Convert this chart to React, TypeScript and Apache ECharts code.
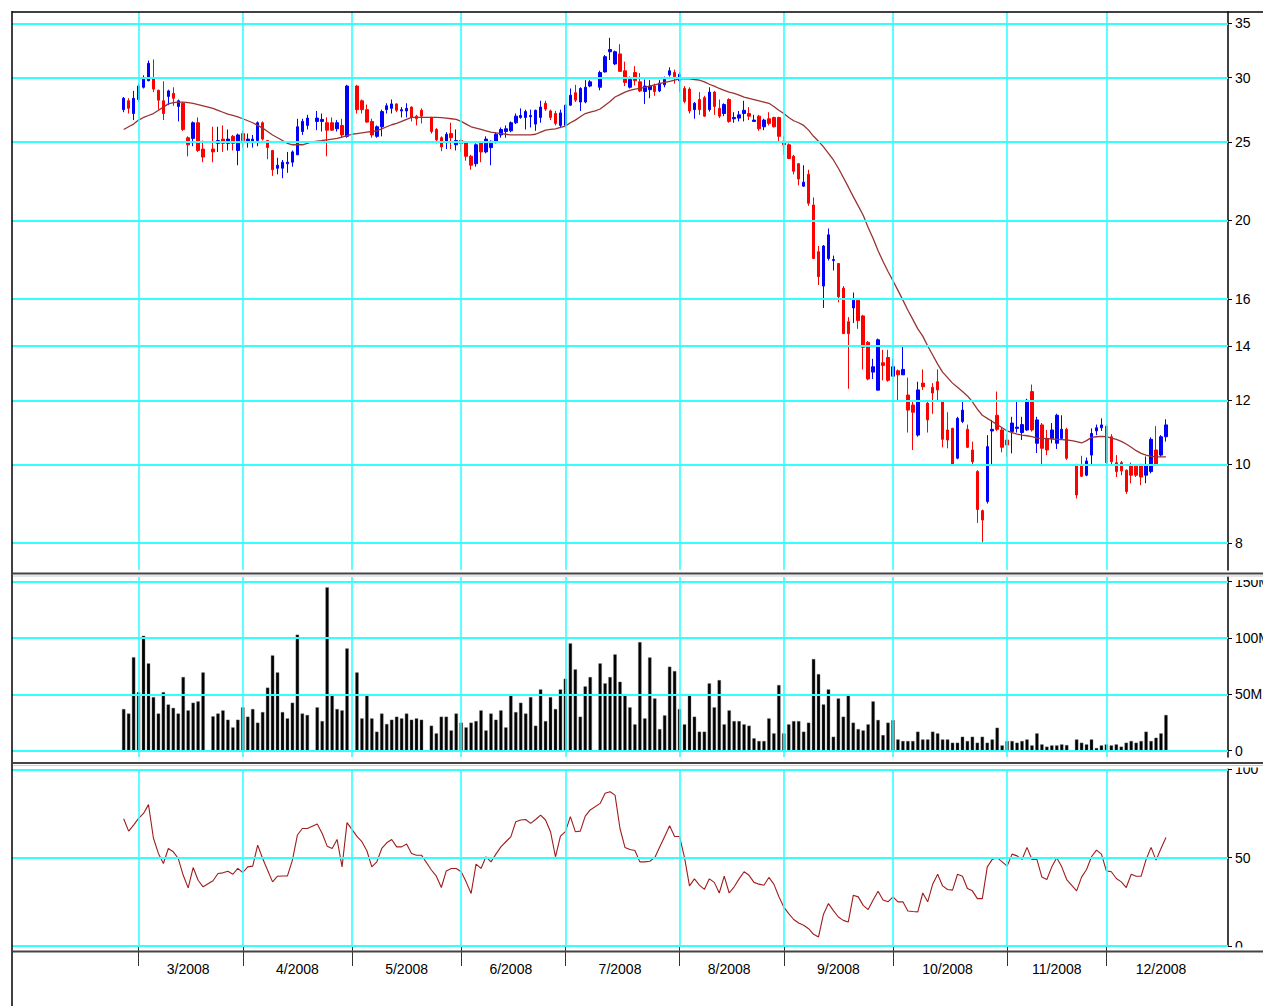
import React, { useEffect, useRef } from "react";
import * as echarts from "echarts";

// ---------- axis / layout constants ----------
const START_YEAR = 2008;
const START_MONTH = 0; // January
const START_DAY = 28; // first weekday slot on the time axis
const SLOT_COUNT = 245; // weekday slots on the axis
const PAD_BEFORE = 22; // empty slots before 2008-02-27

const MONTHS = ["2008-03", "2008-04", "2008-05", "2008-06", "2008-07", "2008-08", "2008-09", "2008-10", "2008-11", "2008-12"];
const priceTicks = [8, 10, 12, 14, 16, 20, 25, 30, 35];
const volumeTicks = [0, 50, 100, 150];
const oscTicks = [0, 50, 100];

// ---------- data: weekdays from 2008-02-27 to 2008-12-17 (null = market holiday) ----------
const opens = [27.4, 28.1, 27.1, 28.2, 29.2, 29.75, 30.0, 28.95, 28.1, 28.45,
  28.7, 27.65, 27.9, 25.3, 25.25, 26.4, 24.5, null, 24.5, 24.9,
  25.2, 24.9, 25.4, 24.4, 25.6, 25.0, 25.0, 25.1, 26.4, 25.1,
  24.4, 23.2, 23.2, 23.5, 23.6, 24.1, 25.75, 26.2, null, 26.5,
  26.5, 26.4, 26.4, 25.95, 26.2, 25.4, null, 29.3, 28.1, 27.4,
  26.5, 25.4, 26.1, 27.4, 27.5, 27.85, 27.3, 27.3, 27.6, 26.9,
  27.35, null, 26.8, 25.9, 25.3, 24.95, 25.6, 24.8, 25.1, 24.95,
  24.0, 23.5, 24.95, 24.3, 24.6, 24.95, 25.5, 25.75, 25.8, 26.4,
  26.8, 26.8, 26.85, 26.3, 26.8, 27.9, 27.3, 27.1, 26.2, 26.2,
  27.75, 28.75, 28.0, 28.0, 29.3, null, 29.2, 30.5, 32.3, 31.2,
  32.1, 30.6, 29.2, 30.45, 29.65, 28.85, 29.0, 29.3, 28.9, 29.4,
  30.25, 30.45, 29.75, 29.1, 29.05, 27.4, 28.2, 28.35, 27.4, 28.8,
  27.5, 27.1, 28.2, 26.7, 26.75, 27.1, 27.1, 26.5, 26.9, 26.1,
  26.7, 26.8, 26.8, 25.05, 24.8, 24.0, 23.5, 22.05, 22.8, 20.9,
  18.3, 16.6, 17.95, 17.85, 17.7, 16.5, 15.0, 15.6, 15.95, 15.25,
  14.15, 13.0, 12.35, 13.35, 13.55, 12.85, 13.05, 12.9, 12.18, 11.84,
  10.87, 12.6, 11.9, 12.45, 12.65, 11.95, 11.03, 11.08, 10.18, 11.3,
  11.05, 10.42, 9.8, 8.77, 9.0, 11.0, 11.5, 11.03, 10.72, 10.98,
  11.08, 10.95, 11.03, 12.3, 10.62, 11.19, 10.77, 10.77, 10.62, 10.77,
  11.05, null, 10.0, 9.98, 9.7, 10.27, 11.0, 11.1, 11.15, 10.82,
  10.05, 10.05, 9.84, 10.0, 9.95, 10.0, 9.7, 9.8, 10.42, 10.27,
  10.82];

const closes = [28.3, 27.5, 28.3, 29.3, 29.9, 31.25, 29.05, 28.15, 27.1, 28.9,
  28.3, 28.1, 25.9, 24.8, 26.4, 24.4, 23.95, null, 24.3, 25.1,
  24.9, 25.2, 24.9, 25.5, 25.1, 25.2, 25.2, 26.4, 25.2, 24.6,
  23.1, 23.4, 23.6, 23.6, 24.3, 26.1, 26.5, 26.75, null, 26.75,
  26.65, 25.85, 25.85, 26.4, 25.5, 29.3, null, 27.4, 27.4, 26.45,
  25.5, 26.1, 27.25, 27.7, 27.85, 27.35, 27.4, 27.5, 26.8, 26.7,
  26.9, null, 25.75, 25.15, 24.65, 25.55, 25.3, 25.1, 24.9, 24.0,
  23.4, 24.8, 24.3, 25.2, 25.05, 25.55, 25.9, 25.95, 26.4, 26.9,
  26.95, 27.25, 26.95, 27.35, 27.6, 27.45, 26.8, 26.35, 27.15, 27.75,
  28.55, 28.15, 29.1, 29.2, 29.65, null, 30.45, 31.85, 32.5, 32.3,
  30.55, 29.6, 29.85, 29.75, 28.9, 29.3, 29.3, 28.85, 29.55, 29.85,
  30.6, 30.1, 30.3, 28.05, 27.3, 27.9, 27.4, 26.9, 28.8, 27.65,
  26.9, 27.8, 26.5, 26.8, 27.0, 27.35, 26.9, 26.6, 25.95, 26.6,
  26.35, 26.1, 25.4, 24.8, 23.85, 23.0, 22.5, 22.3, 21.0, 17.95,
  17.05, 18.6, 19.2, 17.9, 16.1, 14.5, 14.5, 15.95, 15.05, 13.95,
  12.75, 13.2, 14.25, 13.25, 12.7, 13.2, 12.9, 13.1, 11.67, 11.6,
  12.36, 12.47, 11.35, 12.25, 12.36, 10.74, 10.72, 10.0, 11.4, 11.67,
  10.5, 10.08, 8.8, 8.54, 10.52, 11.05, 11.05, 10.5, 10.57, 11.25,
  11.12, 11.2, 12.0, 11.03, 11.35, 10.47, 10.42, 11.03, 11.5, 11.05,
  10.18, null, 9.17, 9.67, 10.1, 10.92, 11.1, 11.19, 10.05, 10.08,
  9.8, 9.82, 9.26, 9.7, 9.7, 9.65, 10.0, 10.74, 10.0, 10.82,
  11.19];

const lows = [27.2, 27.1, 26.6, 28.0, 29.1, 29.7, 28.8, 27.4, 26.6, 27.75,
  27.7, 26.5, 25.8, 24.0, 24.7, 24.3, 23.6, null, 23.6, 24.3,
  24.3, 24.4, 24.4, 23.4, 24.6, 24.6, 24.6, 24.7, 25.1, 23.8,
  22.7, 22.8, 22.55, 22.9, 23.3, 24.1, 25.5, 25.9, null, 25.85,
  25.75, 24.0, 25.8, 25.75, 25.3, 25.3, null, 27.1, 27.1, 26.4,
  25.3, 25.3, 25.4, 27.1, 27.1, 27.2, 26.8, 26.8, 26.5, 26.2,
  26.35, null, 25.6, 24.9, 24.35, 24.5, 24.5, 24.4, 24.3, 23.7,
  23.1, 23.3, 23.6, 24.2, 23.4, 24.9, 25.3, 25.3, 25.7, 26.3,
  26.7, 25.9, 26.05, 25.8, 26.4, 27.3, 26.6, 26.2, 26.0, 26.05,
  27.7, 28.0, 27.3, 27.9, 29.2, null, 28.95, 30.45, 31.55, 31.1,
  30.5, 29.3, 29.1, 29.35, 28.8, 27.85, 28.3, 28.5, 28.8, 29.2,
  30.1, 29.5, 28.8, 27.9, 27.1, 26.7, 27.0, 26.85, 27.25, 27.0,
  26.75, 26.9, 26.4, 26.4, 26.5, 26.5, 26.6, 26.5, 25.8, 25.85,
  26.2, 26.05, 25.05, 24.1, 23.8, 22.8, 22.1, 22.0, 20.85, 17.93,
  16.65, 15.6, 17.85, 17.35, 15.85, 14.5, 12.4, 14.95, 14.7, 13.1,
  12.7, 12.75, 12.35, 12.7, 12.65, 12.85, 12.0, 12.9, 10.95, 10.42,
  10.82, 12.36, 10.95, 11.55, 12.0, 10.5, 10.47, 10.0, 10.15, 11.25,
  10.48, 9.95, 8.47, 8.0, 8.95, 10.0, 11.0, 10.35, 10.22, 10.32,
  10.95, 10.72, 11.0, 10.98, 10.33, 9.95, 10.27, 10.62, 10.45, 10.72,
  10.13, null, 9.08, 9.65, 9.67, 9.98, 10.87, 11.0, 10.0, 9.98,
  9.65, 9.7, 9.2, 9.48, 9.65, 9.43, 9.48, 9.75, 10.0, 10.22,
  10.67];

const highs = [28.4, 28.3, 28.9, 29.5, 30.2, 31.5, 31.6, 29.0, 29.7, 29.0,
  29.2, 28.2, 28.0, 25.4, 26.5, 26.8, 25.1, null, 26.1, 26.1,
  26.2, 25.9, 25.5, 25.6, 25.8, 25.6, 25.5, 26.5, 26.5, 25.1,
  24.4, 23.9, 23.75, 24.3, 24.4, 26.7, 26.7, 27.0, null, 27.3,
  27.1, 26.8, 26.8, 26.6, 26.7, 29.4, null, 29.4, 28.2, 27.8,
  26.7, 26.2, 27.4, 27.9, 28.2, 27.9, 27.6, 27.9, 27.65, 27.0,
  27.5, null, 26.85, 26.0, 25.4, 25.7, 26.4, 25.9, 25.2, 25.0,
  24.1, 24.9, 25.0, 25.4, 25.1, 25.7, 26.05, 26.2, 26.5, 27.1,
  27.5, 27.4, 27.4, 27.4, 28.1, 28.1, 27.4, 27.3, 27.4, 27.85,
  29.1, 29.4, 29.2, 29.8, 29.8, null, 30.6, 32.0, 33.6, 32.4,
  33.0, 31.4, 30.1, 31.0, 30.4, 29.85, 29.8, 29.5, 29.8, 30.1,
  30.9, 30.7, 30.5, 29.3, 29.2, 28.0, 28.8, 28.5, 29.2, 28.9,
  28.2, 27.9, 28.3, 27.2, 27.3, 28.1, 27.6, 27.0, 27.0, 26.7,
  27.2, 26.85, 26.85, 25.4, 24.9, 24.1, 23.55, 23.4, 23.1, 21.35,
  18.6, 18.65, 19.55, 18.1, 17.7, 16.6, 15.2, 16.3, 16.0, 15.3,
  14.2, 13.5, 14.3, 13.85, 13.85, 13.5, 13.1, 14.0, 12.8, 12.0,
  12.65, 13.1, 11.95, 12.6, 13.1, 12.0, 11.6, 11.1, 11.45, 12.0,
  11.2, 10.67, 9.84, 8.8, 10.87, 11.35, 12.3, 11.1, 10.9, 11.45,
  11.95, 11.45, 12.05, 12.55, 11.45, 11.25, 11.03, 11.25, 11.55, 11.5,
  11.1, null, 10.02, 10.25, 10.2, 11.08, 11.2, 11.4, 11.2, 10.9,
  10.27, 10.1, 9.86, 10.05, 10.0, 10.02, 10.23, 10.8, 11.15, 10.87,
  11.37];

// volume in millions
const volumes = [37, 33, 83, 52, 102, 77.5, 47.6, 33, 52, 41,
  38, 33, 65.4, 35.8, 42.6, 43.8, 69.5, null, 30.5, 33,
  35.8, 27.5, 20.7, 27.5, 38.5, 30.2, 37, 24.9, 34.3, 56,
  84.6, 69.5, 34.3, 28.7, 42.6, 103, 33, 31.7, null, 38.5,
  26.3, 145, 49.4, 37, 35.8, 90.8, null, 69.5, 28.7, 49.4,
  28.7, 16.9, 33, 23.7, 27.5, 30.2, 28.7, 33, 27.5, 28.7,
  27.5, null, 22.2, 15.4, 30.2, 30.2, 18, 33, 24.9, 20.7,
  24.9, 26.3, 35.8, 18, 33, 27.5, 35.8, 20.7, 49.4, 34.3,
  42.6, 33, 47.6, 22.2, 54.4, 26.3, 47.6, 37, 54.4, 63.9,
  95.3, 72.2, 30.2, 57.1, 65.4, null, 77.5, 59.8, 65.4, 85.5,
  61.2, 50.3, 38.5, 23.4, 96.4, 28.7, 82.8, 46.4, 19.2, 31.4,
  74.6, 70.7, 37, 23.4, 49.4, 30.2, 16.9, 16.9, 59.8, 38.5,
  62.7, 23.4, 35.8, 26.3, 26.3, 23.4, 22.2, 11, 8.6, 8.6,
  28.7, 15.4, 58.3, 15.4, 23.4, 26.3, 26.3, 16.9, 24.9, 81.4,
  68, 41.1, 54.4, 12.4, 46.4, 30.2, 49.4, 24.9, 19.2, 18,
  23.4, 43.8, 27.3, 13.9, 24.9, 27.2, 10, 8.6, 8.6, 8.6,
  16.9, 10, 10, 16.9, 15.4, 10, 10, 7.1, 7.1, 12.4,
  8.6, 12.4, 7.1, 12.4, 7.1, 10, 20.4, 4.7, 8.6, 8.6,
  7.1, 8.6, 10, 4.7, 15.4, 5.6, 3.6, 4.7, 4.7, 5.6,
  5, null, 10, 7.1, 5.6, 10, 2.4, 4.7, 5.6, 4.7,
  5.6, 3.6, 7.1, 8.6, 7.1, 8.6, 16.9, 8.6, 11.5, 15.4,
  31.7];

// moving average line
const movingAvg = [25.9, 26.1, 26.3, 26.6, 26.8, 26.95, 27.1, 27.35, 27.6, 27.85,
  27.95, 28.0, 28.0, 27.95, 27.9, 27.8, 27.7, 27.6, 27.5, 27.35,
  27.2, 27.05, 26.95, 26.85, 26.7, 26.55, 26.4, 26.2, 26.0, 25.75,
  25.5, 25.3, 25.1, 24.9, 24.8, 24.8, 24.8, 24.9, 25.0, 25.05,
  25.1, 25.15, 25.2, 25.25, 25.35, 25.45, 25.55, 25.6, 25.65, 25.7,
  25.75, 25.8, 25.95, 26.1, 26.25, 26.35, 26.5, 26.65, 26.8, 26.8,
  26.8, 26.8, 26.8, 26.8, 26.78, 26.75, 26.7, 26.65, 26.5, 26.3,
  26.1, 26.0, 25.9, 25.8, 25.7, 25.65, 25.6, 25.55, 25.5, 25.5,
  25.5, 25.5, 25.5, 25.55, 25.7, 25.85, 25.9, 25.95, 26.05, 26.15,
  26.4, 26.6, 26.85, 27.1, 27.2, 27.3, 27.45, 27.75, 28.05, 28.4,
  28.6, 28.8, 28.95, 29.05, 29.1, 29.2, 29.3, 29.4, 29.5, 29.6,
  29.7, 29.8, 29.9, 29.9, 29.9, 29.85, 29.8, 29.65, 29.45, 29.3,
  29.1, 28.95, 28.8, 28.7, 28.55, 28.4, 28.3, 28.2, 28.1, 28.0,
  27.9, 27.65, 27.35, 27.1, 26.8, 26.55, 26.4, 26.2, 25.85, 25.4,
  25.05, 24.65, 24.2, 23.75, 23.2, 22.6, 22.0, 21.4, 20.85, 20.3,
  19.6, 19.0, 18.35, 17.8, 17.3, 16.85, 16.4, 15.95, 15.5, 15.1,
  14.7, 14.4, 14.0, 13.65, 13.3, 13.0, 12.8, 12.6, 12.45, 12.3,
  12.15, 11.95, 11.7, 11.5, 11.4, 11.3, 11.2, 11.1, 11.0, 10.95,
  10.9, 10.87, 10.85, 10.82, 10.78, 10.77, 10.76, 10.75, 10.74, 10.73,
  10.72, 10.7, 10.67, 10.63, 10.7, 10.8, 10.82, 10.83, 10.82, 10.78,
  10.74, 10.68, 10.6, 10.5, 10.4, 10.32, 10.27, 10.23, 10.22, 10.22,
  10.22];

// oscillator (0-100)
const oscillator = [72, 65, 68.4, 72.2, 75, 80, 61, 52.4, 46.7, 55.2,
  53.3, 49.5, 40, 32.9, 44.4, 37.2, 33.5, null, 36.9, 41,
  41.4, 42.3, 40.6, 43.9, 41.6, 44.8, 45.2, 57.1, 49.5, 42.9,
  36.3, 39.5, 39.6, 39.7, 48.6, 62.8, 66.5, 66.5, null, 69,
  63.7, 56.5, 55.2, 60.3, 44.8, 69.8, null, 62, 59, 53.9,
  44.8, 47.6, 55.2, 58.4, 60.3, 56.1, 56.1, 57.7, 52.4, 51.4,
  51.4, null, 43, 39.5, 33.1, 42.5, 43.9, 43.9, 42, 36.3,
  29.7, 46.3, 43.9, 50.5, 47.6, 52, 56.1, 59, 61.8, 70.3,
  71.3, 71.6, 69.4, 71.6, 74.1, 71.3, 64.7, 50.5, 62.2, 64.7,
  73.2, 64.7, 65, 73.5, 77, null, 80.7, 86.4, 87.3, 85.4,
  66.5, 55.8, 54.6, 54, 47.6, 47.6, 48, 50, 56, 62,
  68, 62, 62, 50, 34, 38, 34.5, 32, 38, 36,
  30, 39.5, 30, 33.5, 38, 42, 40, 36, 35, 34.4,
  38.8, 35, 28, 22, 18.3, 15, 13, 11.7, 9.8, 6.6,
  5.1, 18, 24, 20, 16.4, 14.5, 13.6, 28.7, 27.8, 23,
  20.6, 26, 31, 26, 25, 27.8, 25, 25, 19.8, 19.5,
  19.3, 30, 25, 35, 40.6, 34, 32, 31.6, 40.6, 39.5,
  32.5, 31.2, 26.8, 26.8, 44.8, 49, 50, 47.6, 45.2, 52,
  51, 49, 55.8, 49, 49, 39, 37.6, 44.8, 50, 44.8,
  37.6, null, 31.2, 39, 43.3, 50.5, 54.3, 52, 42.5, 42,
  38.2, 36.3, 33.1, 40.6, 39.5, 39.5, 49, 55.8, 48.6, 55.2,
  61.4];

// ---------- styles ----------
const CYAN = "#33ffff";
const UP = "#0000ff";
const DOWN = "#ff0000";
const FONT = "Liberation Sans, Arial, sans-serif";

function buildCategories(): string[] {
  const out: string[] = [];
  const d = new Date(Date.UTC(START_YEAR, START_MONTH, START_DAY));
  while (out.length < SLOT_COUNT) {
    const wd = d.getUTCDay();
    if (wd !== 0 && wd !== 6) out.push(d.toISOString().slice(0, 10));
    d.setUTCDate(d.getUTCDate() + 1);
  }
  return out;
}

function pad(arr: any[], empty: any): any[] {
  const after = SLOT_COUNT - PAD_BEFORE - arr.length;
  return [
    ...new Array(PAD_BEFORE).fill(empty),
    ...arr.map((v) => (v == null ? empty : v)),
    ...new Array(after).fill(empty),
  ];
}

export default function App() {
  const ref = useRef<HTMLDivElement>(null);

  useEffect(() => {
    if (!ref.current) return;
    const chart = echarts.init(ref.current, undefined, { renderer: "svg" });
    const categories = buildCategories();

    const monthInfo = MONTHS.map((m) => {
      const idxs: number[] = [];
      categories.forEach((c, i) => {
        if (c.startsWith(m)) idxs.push(i);
      });
      return { key: m, first: idxs[0], mid: idxs[0] + Math.floor(idxs.length / 2) };
    });
    const tickSet = new Set(monthInfo.map((m) => m.first));
    const labelSet = new Set(monthInfo.map((m) => m.mid));

    const candleData = opens.map((o, i) =>
      o == null ? ["-", "-", "-", "-"] : [o, closes[i], lows[i], highs[i]]
    );
    const emptyCandle = ["-", "-", "-", "-"];
    const candlePadded = [
      ...new Array(PAD_BEFORE).fill(emptyCandle),
      ...candleData,
      ...new Array(SLOT_COUNT - PAD_BEFORE - candleData.length).fill(emptyCandle),
    ];
    const blank = new Array(SLOT_COUNT).fill("-");

    const vLines = monthInfo.map((m) => ({ xAxis: categories[m.first] }));
    const vLineStyle = { color: CYAN, width: 1.6, type: "solid" as const };
    const hLineStyle = { color: CYAN, width: 2, type: "solid" as const };

    const markBase = {
      silent: true,
      symbol: ["none", "none"],
      animation: false,
      emphasis: { disabled: true },
    };

    const hLabel = (fmt: (v: number) => string) => ({
      show: true,
      position: "end" as const,
      distance: 7,
      color: "#000",
      fontSize: 14,
      fontFamily: FONT,
      formatter: (p: any) => fmt(Number(p.value)),
    });

    const hiddenX = (gridIndex: number) => ({
      type: "category" as const,
      gridIndex,
      data: categories,
      boundaryGap: true,
      show: false,
    });

    const rightAxisLine = { show: true, lineStyle: { color: "#000", width: 1.5 } };
    const rightTick = { show: true, inside: false, length: 4, lineStyle: { color: "#000", width: 1 } };

    const option: any = {
      animation: false,
      backgroundColor: "#fff",
      grid: [
        { left: 12, top: 12, width: 1216, height: 558 },
        { left: 12, top: 577, width: 1216, height: 180 },
        { left: 12, top: 769.3, width: 1216, height: 176.7 },
      ],
      xAxis: [
        hiddenX(0),
        hiddenX(1),
        {
          type: "category",
          gridIndex: 2,
          data: categories,
          boundaryGap: true,
          offset: 12,
          axisLine: { show: false },
          axisTick: {
            show: true,
            alignWithLabel: true,
            inside: false,
            length: 20,
            interval: (index: number) => tickSet.has(index),
            lineStyle: { color: "#333", width: 1 },
          },
          axisLabel: {
            show: true,
            margin: 4,
            color: "#000",
            fontSize: 14,
            fontFamily: FONT,
            interval: (index: number) => labelSet.has(index),
            formatter: (v: string) => `${parseInt(v.slice(5, 7), 10)}/${v.slice(0, 4)}`,
          },
          splitLine: { show: false },
        },
      ],
      yAxis: [
        {
          type: "log",
          logBase: 10,
          gridIndex: 0,
          position: "right",
          min: 7.41,
          max: 36.16,
          axisLine: rightAxisLine,
          axisTick: { ...rightTick, customValues: priceTicks },
          axisLabel: { show: false },
          splitLine: { show: false },
        },
        {
          type: "value",
          gridIndex: 1,
          position: "right",
          min: -5.6,
          max: 154.2,
          axisLine: rightAxisLine,
          axisTick: { ...rightTick, customValues: volumeTicks },
          axisLabel: { show: false },
          splitLine: { show: false },
        },
        {
          type: "value",
          gridIndex: 2,
          position: "right",
          min: 0,
          max: 100,
          interval: 50,
          axisLine: rightAxisLine,
          axisTick: rightTick,
          axisLabel: { show: false },
          splitLine: { show: false },
        },
      ],
      series: [
        // price panel grid lines
        {
          type: "line",
          xAxisIndex: 0,
          yAxisIndex: 0,
          data: blank,
          z: 1,
          silent: true,
          markLine: {
            ...markBase,
            lineStyle: hLineStyle,
            label: hLabel((v) => String(v)),
            data: priceTicks.map((v) => ({ yAxis: v })),
          },
        },
        {
          type: "line",
          xAxisIndex: 0,
          yAxisIndex: 0,
          data: blank,
          z: 1,
          silent: true,
          markLine: { ...markBase, lineStyle: vLineStyle, label: { show: false }, data: vLines },
        },
        {
          type: "candlestick",
          name: "price",
          xAxisIndex: 0,
          yAxisIndex: 0,
          data: candlePadded,
          barWidth: 3,
          z: 3,
          itemStyle: {
            color: UP,
            color0: DOWN,
            borderColor: UP,
            borderColor0: DOWN,
            borderColorDoji: UP,
            borderWidth: 1,
          },
        },
        {
          type: "line",
          name: "MA",
          xAxisIndex: 0,
          yAxisIndex: 0,
          data: pad(movingAvg, null),
          connectNulls: true,
          showSymbol: false,
          symbol: "none",
          z: 4,
          lineStyle: { color: "#993333", width: 1.3 },
        },
        // volume panel
        {
          type: "line",
          xAxisIndex: 1,
          yAxisIndex: 1,
          data: blank,
          z: 1,
          silent: true,
          markLine: {
            ...markBase,
            lineStyle: hLineStyle,
            label: hLabel((v) => (v === 0 ? "0" : `${v}M`)),
            data: volumeTicks.map((v) => ({ yAxis: v })),
          },
        },
        {
          type: "line",
          xAxisIndex: 1,
          yAxisIndex: 1,
          data: blank,
          z: 1,
          silent: true,
          markLine: { ...markBase, lineStyle: vLineStyle, label: { show: false }, data: vLines },
        },
        {
          type: "bar",
          name: "volume",
          xAxisIndex: 1,
          yAxisIndex: 1,
          data: pad(volumes, "-"),
          barWidth: 3.4,
          z: 3,
          itemStyle: { color: "#000", borderColor: "#777", borderWidth: 0.4 },
        },
        // oscillator panel
        {
          type: "line",
          xAxisIndex: 2,
          yAxisIndex: 2,
          data: blank,
          z: 1,
          silent: true,
          markLine: {
            ...markBase,
            lineStyle: hLineStyle,
            label: hLabel((v) => String(v)),
            data: oscTicks.map((v) => ({ yAxis: v })),
          },
        },
        {
          type: "line",
          xAxisIndex: 2,
          yAxisIndex: 2,
          data: blank,
          z: 1,
          silent: true,
          markLine: { ...markBase, lineStyle: vLineStyle, label: { show: false }, data: vLines },
        },
        {
          type: "line",
          name: "oscillator",
          xAxisIndex: 2,
          yAxisIndex: 2,
          data: pad(oscillator, null),
          connectNulls: true,
          showSymbol: false,
          symbol: "none",
          z: 3,
          lineStyle: { color: "#a01c1c", width: 1.1 },
        },
      ],
      graphic: [
        // label clipping at panel edges
        { type: "rect", z: 100, shape: { x: 1229, y: 574, width: 34, height: 6 }, style: { fill: "#fff" } },
        { type: "rect", z: 100, shape: { x: 1229, y: 762, width: 34, height: 5.5 }, style: { fill: "#fff" } },
        { type: "rect", z: 100, shape: { x: 1229, y: 947.5, width: 34, height: 5 }, style: { fill: "#fff" } },
        // frame
        { type: "line", z: 101, shape: { x1: 12, y1: 12, x2: 1263, y2: 12 }, style: { stroke: "#000", lineWidth: 1.5 } },
        { type: "line", z: 101, shape: { x1: 12, y1: 11, x2: 12, y2: 1006 }, style: { stroke: "#000", lineWidth: 1.5 } },
        { type: "line", z: 101, shape: { x1: 13, y1: 573.5, x2: 1263, y2: 573.5 }, style: { stroke: "#444", lineWidth: 2 } },
        { type: "line", z: 101, shape: { x1: 13, y1: 576, x2: 1263, y2: 576 }, style: { stroke: "#ccc", lineWidth: 1 } },
        { type: "line", z: 101, shape: { x1: 13, y1: 763, x2: 1263, y2: 763 }, style: { stroke: "#444", lineWidth: 2 } },
        { type: "line", z: 101, shape: { x1: 13, y1: 765.5, x2: 1263, y2: 765.5 }, style: { stroke: "#ccc", lineWidth: 1 } },
        { type: "line", z: 101, shape: { x1: 13, y1: 951.5, x2: 1263, y2: 951.5 }, style: { stroke: "#444", lineWidth: 2 } },
      ],
    };

    chart.setOption(option);
    return () => chart.dispose();
  }, []);

  return (
    <div
      ref={ref}
      style={{ position: "absolute", left: 0, top: 0, width: 1263, height: 1006, background: "#fff" }}
    />
  );
}
